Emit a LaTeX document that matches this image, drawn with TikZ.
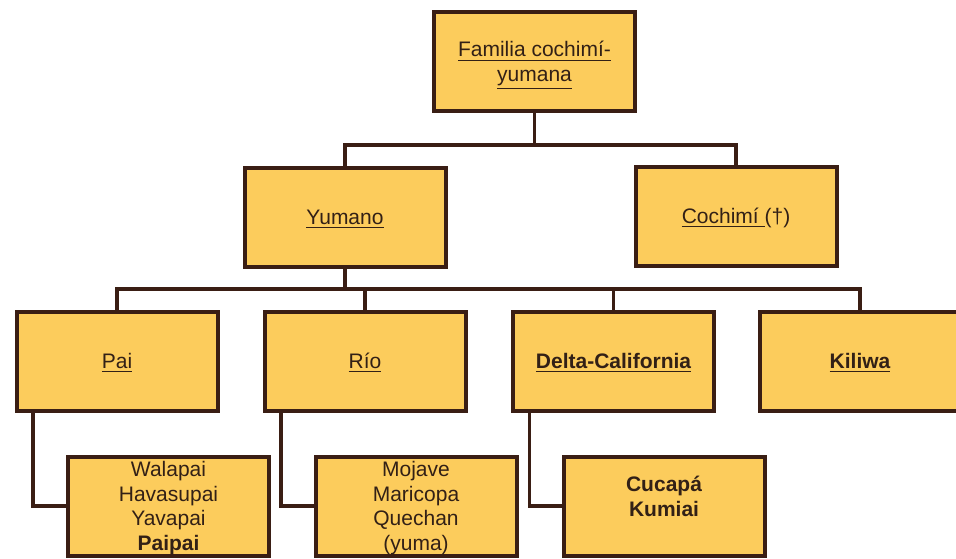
\documentclass[tikz,border=0pt]{standalone}
\usepackage{fontspec}
\setmainfont{Liberation Sans}
\usepackage{tikz}
\usetikzlibrary{calc}
\definecolor{boxfill}{RGB}{252,204,92}
\definecolor{boxline}{RGB}{58,30,20}
\definecolor{boxtext}{RGB}{50,32,22}

\begin{document}
\begin{tikzpicture}[x=0.5pt, y=-0.5pt,
    famnode/.style={rectangle, draw=boxline, line width=2pt, fill=boxfill, text=boxtext,
        minimum width=100.5pt, minimum height=49.5pt, align=center, text depth=-1pt,
        font=\fontsize{10.5}{12.3}\selectfont},
    langnode/.style={famnode, inner ysep=1pt, text depth=-2pt},
    link/.style={draw=boxline, line width=1.6pt}]

                    \useasboundingbox (0,0) rectangle (956,558);

                    \node[famnode, text depth=-2.5pt] (fam) at (534.5,61.5) {\underline{Familia cochimí-}\\\underline{yumana}};

                    \node[famnode] (yum) at (345,217) {\underline{Yumano}};
                    \node[famnode] (coch) at (736,216) {\underline{Cochimí }(†)};

                    \node[famnode] (pai) at (117,361) {\underline{Pai}};
                    \node[famnode] (rio) at (365,361) {\underline{Río}};
                    \node[famnode] (delta) at (613.5,361) {\bfseries\underline{Delta-California}};
                    \node[famnode] (kil) at (860,361) {\bfseries\underline{Kiliwa}};

                    \node[langnode] (pail) at (168.5,506) {Walapai\\Havasupai\\Yavapai\\\bfseries Paipai};
                    \node[langnode] (riol) at (416,506) {Mojave\\Maricopa\\Quechan\\(yuma)};
                    \node[langnode, font=\bfseries\fontsize{10.5}{12.3}\selectfont, text depth=10pt] (deltal) at (664,506) {Cucapá\\Kumiai};

                    % first level
                    \coordinate (bus1) at (534.5,145);
                    \draw[link] (fam) -- (bus1);
                    \draw[link] (bus1) -| (yum);
                    \draw[link] (bus1) -| (coch);

                    % second level
                    \coordinate (bus2) at (345,289);
                    \draw[link] (yum) -- (bus2);
                    \draw[link] (bus2) -| (pai);
                    \draw[link] (bus2) -| (rio);
                    \draw[link] (bus2) -| (delta);
                    \draw[link] (bus2) -| (kil);

                    % languages
                    \draw[link] ([xshift=9.25pt]pai.south west) |- (pail);
                    \draw[link] ([xshift=9.25pt]rio.south west) |- (riol);
                    \draw[link] ([xshift=9.25pt]delta.south west) |- (deltal);

                \end{tikzpicture}
\end{document}
